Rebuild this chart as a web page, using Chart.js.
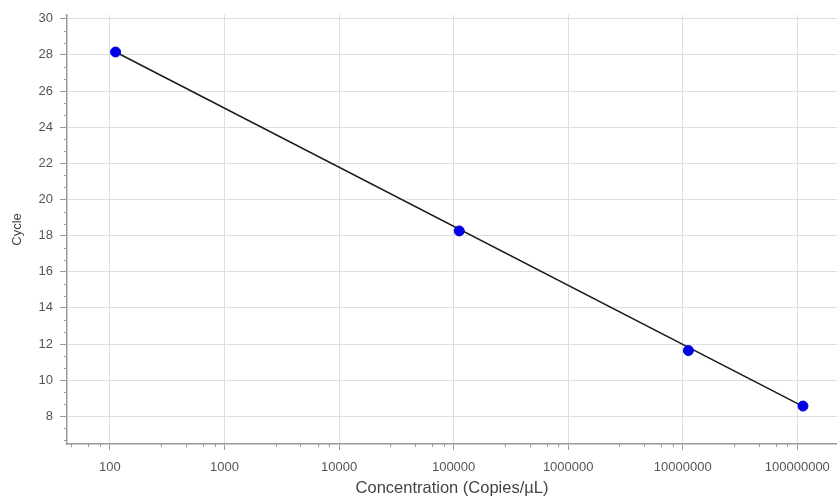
<!DOCTYPE html>
<html>
<head>
<meta charset="utf-8">
<script src="https://cdn.jsdelivr.net/npm/chart.js@4"></script>
<style>
  body { margin: 0; background: #fff; }
  #wrap { width: 837px; height: 502px; position: relative; }
</style>
</head>
<body>
<div id="wrap"><canvas id="stdCurve"></canvas></div>
<script>
// standard curve samples
const concentrations = [112, 112000, 11200000, 112000000];
const cycles = [28.16, 18.26, 11.64, 8.57];

// fitted line end points
const fitX = [112, 112000000];
const fitY = [28.16, 8.55];

// axis ticks
const xTicks = [100, 1000, 10000, 100000, 1000000, 10000000, 100000000];
const yTicks = [8, 10, 12, 14, 16, 18, 20, 22, 24, 26, 28, 30];
const xMinorSteps = [2.8, 4.6, 6.5, 8.2];
const yMinorSteps = [2 / 3, 4 / 3];

const axisGray = '#9a9a9a';
const gridGray = '#dedede';

// short minor ticks along both axes
const minorTicks = {
    id: 'minorTicks',
    afterDraw(chart) {
        const ctx = chart.ctx;
        const x = chart.scales.x, y = chart.scales.y;
        ctx.save();
        ctx.strokeStyle = axisGray;
        ctx.lineWidth = 1;
        ctx.beginPath();
        for (let d = 10; d <= 1e8; d *= 10) {
            xMinorSteps.forEach(function (m) {
                const v = d * m;
                if (v < x.min || v > x.max) return;
                const px = Math.round(x.getPixelForValue(v)) + 0.5;
                ctx.moveTo(px, x.top);
                ctx.lineTo(px, x.top + 3);
            });
        }
        for (let t = 6; t <= 30; t += 2) {
            yMinorSteps.forEach(function (m) {
                const v = t + m;
                if (v < y.min || v > y.max) return;
                const py = Math.round(y.getPixelForValue(v)) + 0.5;
                ctx.moveTo(y.right - 3, py);
                ctx.lineTo(y.right, py);
            });
        }
        ctx.stroke();
        ctx.restore();
    }
};

Chart.defaults.font.family = "'Liberation Sans', Arial, sans-serif";
Chart.defaults.color = '#555';

new Chart(document.getElementById('stdCurve').getContext('2d'), {
    type: 'scatter',
    data: {
        datasets: [{
            label: 'Fit',
            data: fitX.map(function (v, i) { return { x: v, y: fitY[i] }; }),
            showLine: true,
            borderColor: '#1a1a1a',
            borderWidth: 1.5,
            pointRadius: 0,
            order: 2
        }, {
            label: 'Standards',
            data: concentrations.map(function (v, i) { return { x: v, y: cycles[i] }; }),
            backgroundColor: '#0000e6',
            borderColor: '#0000e6',
            pointRadius: 5,
            order: 1
        }]
    },
    options: {
        responsive: true,
        maintainAspectRatio: false,
        animation: false,
        layout: { autoPadding: false, padding: { top: 13, right: 0, left: 0, bottom: 0 } },
        plugins: {
            legend: { display: false },
            tooltip: { enabled: false }
        },
        scales: {
            x: {
                type: 'logarithmic',
                min: 42.2,
                max: 2.22e8,
                afterBuildTicks: function (scale) {
                    scale.ticks = xTicks.map(function (v) { return { value: v }; });
                },
                afterFit: function (scale) {
                    scale.height = 58;
                    scale.paddingLeft = 0;
                    scale.paddingRight = 0;
                },
                border: { color: axisGray, width: 1.5 },
                grid: { color: gridGray, tickColor: axisGray, tickLength: 6 },
                ticks: {
                    padding: 10,
                    font: { size: 13 },
                    maxRotation: 0,
                    autoSkip: false,
                    callback: function (v) { return String(v); }
                },
                title: {
                    display: true,
                    text: 'Concentration (Copies/\u00b5L)',
                    color: '#444',
                    font: { size: 16.5 },
                    padding: { top: 4 }
                }
            },
            y: {
                min: 6.47,
                max: 30.22,
                afterBuildTicks: function (scale) {
                    scale.ticks = yTicks.map(function (v) { return { value: v }; });
                },
                afterFit: function (scale) { scale.width = 67; },
                border: { color: axisGray, width: 1.5 },
                grid: { color: gridGray, tickColor: axisGray, tickLength: 7 },
                ticks: {
                    padding: 7,
                    font: { size: 13 }
                },
                title: {
                    display: true,
                    text: 'Cycle',
                    color: '#444',
                    font: { size: 13 },
                    padding: { top: 10 }
                }
            }
        }
    },
    plugins: [minorTicks]
});
</script>
</body>
</html>
